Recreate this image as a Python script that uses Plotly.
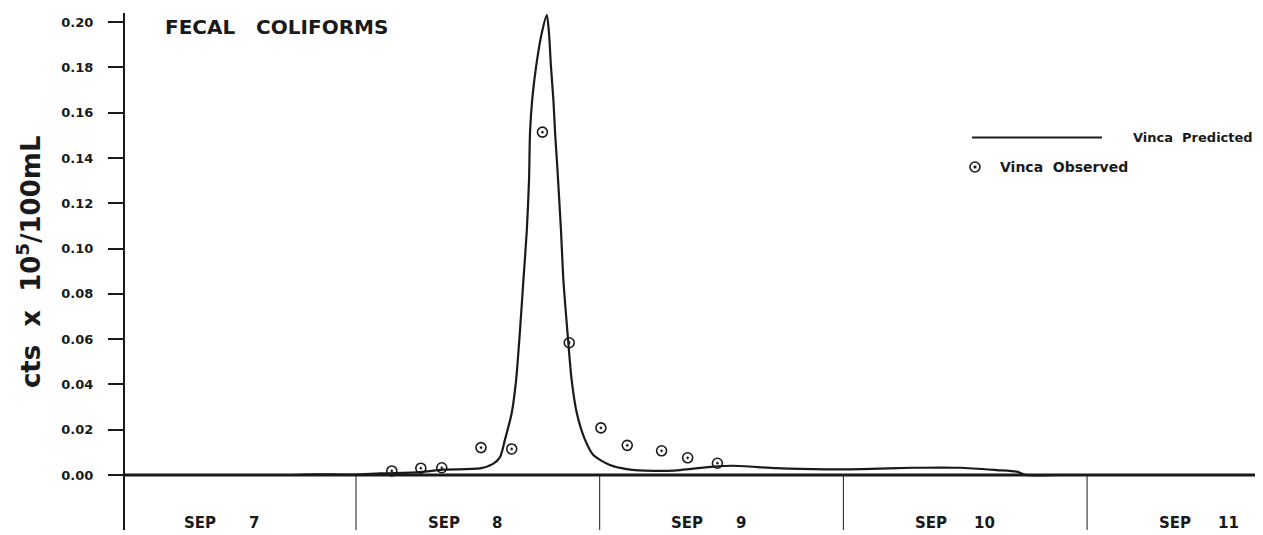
import plotly.graph_objects as go

# ---- data (x in days from Sep 7 00:00, y in cts x 10^5/100mL) ----
pred_x = [0.052, 0.729, 0.832, 0.934, 1.000, 1.099, 1.263, 1.357, 1.509, 1.562,
          1.591, 1.611, 1.639, 1.657, 1.673, 1.687, 1.701, 1.710, 1.714, 1.723,
          1.739, 1.762, 1.783, 1.792, 1.800, 1.810, 1.817, 1.826, 1.834, 1.841,
          1.851, 1.867, 1.885, 1.906, 1.940, 1.974, 2.042, 2.111, 2.220, 2.330,
          2.466, 2.548, 2.726, 2.931, 3.080, 3.286, 3.478, 3.629, 3.711, 3.752,
          3.900, 4.300, 4.689]
pred_y = [0.0000, 0.0000, 0.0003, 0.0002, 0.0002, 0.0007, 0.0013, 0.0024, 0.0029, 0.0049,
          0.0079, 0.0155, 0.0274, 0.0419, 0.0640, 0.0861, 0.1082, 0.1302, 0.1510, 0.1656,
          0.1803, 0.1950, 0.2031, 0.1950, 0.1803, 0.1656, 0.1510, 0.1361, 0.1214, 0.1082,
          0.0861, 0.0640, 0.0419, 0.0274, 0.0155, 0.0088, 0.0044, 0.0026, 0.0018, 0.0022,
          0.0037, 0.0041, 0.0030, 0.0025, 0.0026, 0.0032, 0.0032, 0.0022, 0.0015, 0.0000,
          0.0000, 0.0000, 0.0000]

obs_x = [1.147, 1.266, 1.352, 1.513, 1.639, 1.765, 1.875, 2.005, 2.113, 2.254, 2.361, 2.483]
obs_y = [0.0018, 0.0030, 0.0032, 0.0121, 0.0115, 0.1514, 0.0584, 0.0208, 0.0131, 0.0107,
         0.0076, 0.0052]

day_bounds = [1, 2, 3, 4]
day_names = ["7", "8", "9", "10", "11"]
y_ticks = [0.00, 0.02, 0.04, 0.06, 0.08, 0.10, 0.12, 0.14, 0.16, 0.18, 0.20]

FONT = "DejaVu Sans"
INK = "#1a1a1a"

fig = go.Figure()
fig.add_trace(go.Scatter(x=pred_x, y=pred_y, mode="lines",
                         line=dict(color=INK, width=2.2, shape="spline", smoothing=0.7),
                         hoverinfo="skip", showlegend=False, name="Vinca Predicted"))
fig.add_trace(go.Scatter(x=obs_x, y=obs_y, mode="markers",
                         marker=dict(symbol="circle-open-dot", size=10, color=INK,
                                     line=dict(width=1.6, color=INK)),
                         showlegend=False, name="Vinca Observed"))

shapes = []
# zero baseline (thick)
shapes.append(dict(type="line", xref="paper", yref="y", x0=0, x1=1, y0=0, y1=0,
                   line=dict(color=INK, width=3)))
# day separators below the axis
for d in day_bounds:
    shapes.append(dict(type="line", xref="x", yref="paper", x0=d, x1=d, y0=0,
                       y1=0.1064, line=dict(color=INK, width=1)))
# legend line
shapes.append(dict(type="line", xref="paper", yref="paper", x0=0.7496, x1=0.8646,
                   y0=0.7592, y1=0.7592, line=dict(color=INK, width=2.2)))
# legend marker (circle with dot)
shapes.append(dict(type="circle", xref="paper", yref="paper", xsizemode="pixel",
                   ysizemode="pixel", xanchor=0.7522, yanchor=0.7021,
                   x0=-5, x1=5, y0=-5, y1=5, line=dict(color=INK, width=1.6)))
shapes.append(dict(type="circle", xref="paper", yref="paper", xsizemode="pixel",
                   ysizemode="pixel", xanchor=0.7522, yanchor=0.7021,
                   x0=-1.3, x1=1.3, y0=-1.3, y1=1.3, fillcolor=INK,
                   line=dict(color=INK, width=0.5)))

annotations = []
for i, name in enumerate(day_names):
    annotations.append(dict(x=i + 0.36, y=-0.0212, xref="x", yref="y", text="SEP",
                            showarrow=False, xanchor="center", yanchor="middle",
                            font=dict(family=FONT, size=15, color=INK, weight="bold")))
    annotations.append(dict(x=i + 0.58, y=-0.0212, xref="x", yref="y", text=name,
                            showarrow=False, xanchor="center", yanchor="middle",
                            font=dict(family=FONT, size=15, color=INK, weight="bold")))

annotations.append(dict(x=0.1345, y=0.972, xref="paper", yref="paper",
                        text="FECAL   COLIFORMS", showarrow=False, xanchor="center",
                        yanchor="middle",
                        font=dict(family=FONT, size=20, color=INK, weight="bold")))
annotations.append(dict(x=0.890, y=0.7592, xref="paper", yref="paper",
                        text="Vinca  Predicted", showarrow=False, xanchor="left",
                        yanchor="middle",
                        font=dict(family=FONT, size=13, color=INK, weight="bold")))
annotations.append(dict(x=0.7726, y=0.7021, xref="paper", yref="paper",
                        text="Vinca  Observed", showarrow=False, xanchor="left",
                        yanchor="middle",
                        font=dict(family=FONT, size=14, color=INK, weight="bold")))
annotations.append(dict(x=-0.085, y=0.52, xref="paper", yref="paper",
                        text="cts  x  10<sup>5</sup>/100mL", showarrow=False,
                        textangle=-90, xanchor="center", yanchor="middle",
                        font=dict(family=FONT, size=26, color=INK, weight="bold")))

fig.update_layout(
    width=1255, height=527,
    margin=dict(l=117, r=8, t=5, b=5),
    paper_bgcolor="white", plot_bgcolor="white",
    showlegend=False,
    shapes=shapes, annotations=annotations,
    xaxis=dict(range=[0.0521, 4.689], showgrid=False, zeroline=False,
               showline=False, showticklabels=False, ticks=""),
    yaxis=dict(range=[-0.02428, 0.204], showgrid=False, zeroline=False,
               showline=True, linecolor=INK, linewidth=2,
               tickmode="array", tickvals=y_ticks,
               ticktext=[f"{v:.2f}" for v in y_ticks],
               ticks="outside", ticklen=15, tickwidth=1.5, tickcolor=INK,
               ticklabelstandoff=12,
               tickfont=dict(family=FONT, size=13, color=INK, weight="bold")),
)

fig.write_html("out.html")
